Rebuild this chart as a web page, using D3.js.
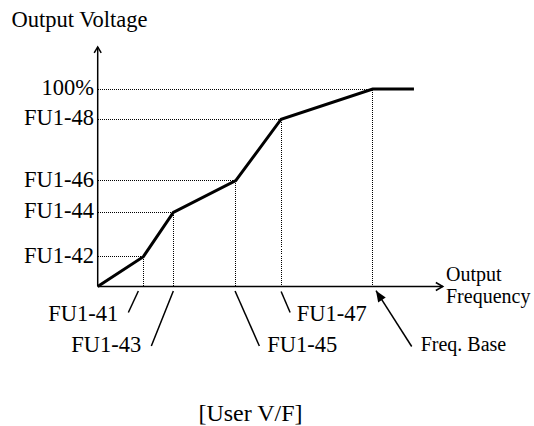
<!DOCTYPE html>
<html>
<head>
<meta charset="utf-8">
<script src="https://cdn.jsdelivr.net/npm/d3@7"></script>
<style>
  html, body { margin: 0; padding: 0; background: #fff; }
  svg { display: block; }
  text { font-family: "Liberation Serif", "Times New Roman", serif; fill: #000; }
</style>
</head>
<body>
<svg id="chart" width="534" height="426"></svg>
<script>
// V/F pattern break points (frequency as % of base frequency, voltage as % of rated)
const freqPoints = [0, 16.6, 27.5, 50.2, 66.7, 100, 115];
const voltPoints = [0, 15.1, 37.5, 53.6, 84.7, 100, 100];

// Parameter codes for each break point
const xLabels = ["FU1-41", "FU1-43", "FU1-45", "FU1-47", "Freq. Base"];
const yLabels = ["FU1-42", "FU1-44", "FU1-46", "FU1-48", "100%"];

const xAxisMax = 125.5;
const yAxisMax = 121.3;

const titleY = "Output Voltage";
const titleX = ["Output", "Frequency"];
const caption = "[User V/F]";

const svg = d3.select("#chart");

const x = d3.scaleLinear().domain([0, 100]).range([97.7, 372.7]);
const y = d3.scaleLinear().domain([0, 100]).range([286.5, 89]);

const x0 = x(0), y0 = y(0);
// snap a coordinate to the pixel centre so 1px dotted strokes stay crisp
const crisp = v => Math.round(v - 0.5) + 0.5;

// dotted guide lines from each break point to the axes
const guides = svg.append("g")
  .attr("stroke", "#000")
  .attr("stroke-width", 1)
  .attr("stroke-dasharray", "1,1")
  .attr("shape-rendering", "crispEdges")
  .attr("fill", "none");

for (let i = 1; i <= 5; i++) {
  const px = crisp(x(freqPoints[i])), py = crisp(y(voltPoints[i]));
  guides.append("line").attr("x1", x0).attr("y1", py).attr("x2", px).attr("y2", py);
  guides.append("line").attr("x1", px).attr("y1", py).attr("x2", px).attr("y2", y0);
}

// axes with open arrow heads
const axes = svg.append("g").attr("stroke", "#000").attr("stroke-width", 1.5).attr("fill", "none");
axes.append("line").attr("x1", x0).attr("y1", y0).attr("x2", x(xAxisMax)).attr("y2", y0);
axes.append("line").attr("x1", x0).attr("y1", y0).attr("x2", x0).attr("y2", y(yAxisMax));
axes.append("path")
  .attr("d", `M${x(xAxisMax) - 7},${y0 - 4}L${x(xAxisMax)},${y0}L${x(xAxisMax) - 7},${y0 + 4}`);
axes.append("path")
  .attr("d", `M${x0 - 3.5},${y(yAxisMax) + 6}L${x0},${y(yAxisMax)}L${x0 + 3.5},${y(yAxisMax) + 6}`);

// V/F curve
const line = d3.line().x(d => x(d[0])).y(d => y(d[1]));
svg.append("path")
  .datum(freqPoints.map((f, i) => [f, voltPoints[i]]))
  .attr("d", line)
  .attr("fill", "none")
  .attr("stroke", "#000")
  .attr("stroke-width", 3)
  .attr("stroke-linejoin", "miter");

// voltage labels on the vertical axis
svg.append("g").selectAll("text")
  .data(yLabels)
  .join("text")
  .attr("x", 94)
  .attr("y", (d, i) => y(voltPoints[i + 1]) + 6)
  .attr("text-anchor", "end")
  .attr("font-size", 22.5)
  .text(d => d);

// frequency labels below the horizontal axis with leader lines
const callouts = [
  { lx1: -5, ly1: 4.5, lx2: -15, ly2: 26, tx: -25, ty: 34, anchor: "end", size: 22.5 },
  { lx1: 0, ly1: 4.5, lx2: -22, ly2: 59.5, tx: -32, ty: 65, anchor: "end", size: 22.5 },
  { lx1: -0.7, ly1: 4.5, lx2: 23.6, ly2: 59.5, tx: 31.6, ty: 65, anchor: "start", size: 22.5 },
  { lx1: 0, ly1: 5, lx2: 9, ly2: 26, tx: 15.7, ty: 34, anchor: "start", size: 22.5 },
  { lx1: 39, ly1: 60, lx2: 3.3, ly2: 4.2, tx: 48, ty: 64, anchor: "start", size: 20, arrow: true }
];

const leaderGroup = svg.append("g");
xLabels.forEach((lab, i) => {
  const c = callouts[i];
  const px = x(freqPoints[i + 1]);
  const x1 = px + c.lx1, y1 = y0 + c.ly1, x2 = px + c.lx2, y2 = y0 + c.ly2;
  leaderGroup.append("line")
    .attr("x1", x1).attr("y1", y1).attr("x2", x2).attr("y2", y2)
    .attr("stroke", "#000").attr("stroke-width", 1.5);
  if (c.arrow) {
    // filled arrow head at (x2, y2), pointing from (x1, y1)
    const ang = Math.atan2(y2 - y1, x2 - x1);
    const len = 11, half = 4.5;
    const bx = x2 - len * Math.cos(ang), by = y2 - len * Math.sin(ang);
    const nx = -Math.sin(ang) * half, ny = Math.cos(ang) * half;
    leaderGroup.append("path")
      .attr("d", `M${x2},${y2}L${bx + nx},${by + ny}L${bx - nx},${by - ny}Z`)
      .attr("fill", "#000");
  }
  leaderGroup.append("text")
    .attr("x", px + c.tx)
    .attr("y", y0 + c.ty)
    .attr("text-anchor", c.anchor)
    .attr("font-size", c.size)
    .text(lab);
});

// axis titles
svg.append("text")
  .attr("x", 11.5).attr("y", 27)
  .attr("font-size", 22.5)
  .text(titleY);

svg.append("text")
  .attr("x", 446).attr("y", 281)
  .attr("font-size", 20)
  .text(titleX[0]);
svg.append("text")
  .attr("x", 446).attr("y", 303)
  .attr("font-size", 20)
  .text(titleX[1]);

// caption
svg.append("text")
  .attr("x", 250.5).attr("y", 420.5)
  .attr("text-anchor", "middle")
  .attr("font-size", 24)
  .text(caption);
</script>
</body>
</html>
